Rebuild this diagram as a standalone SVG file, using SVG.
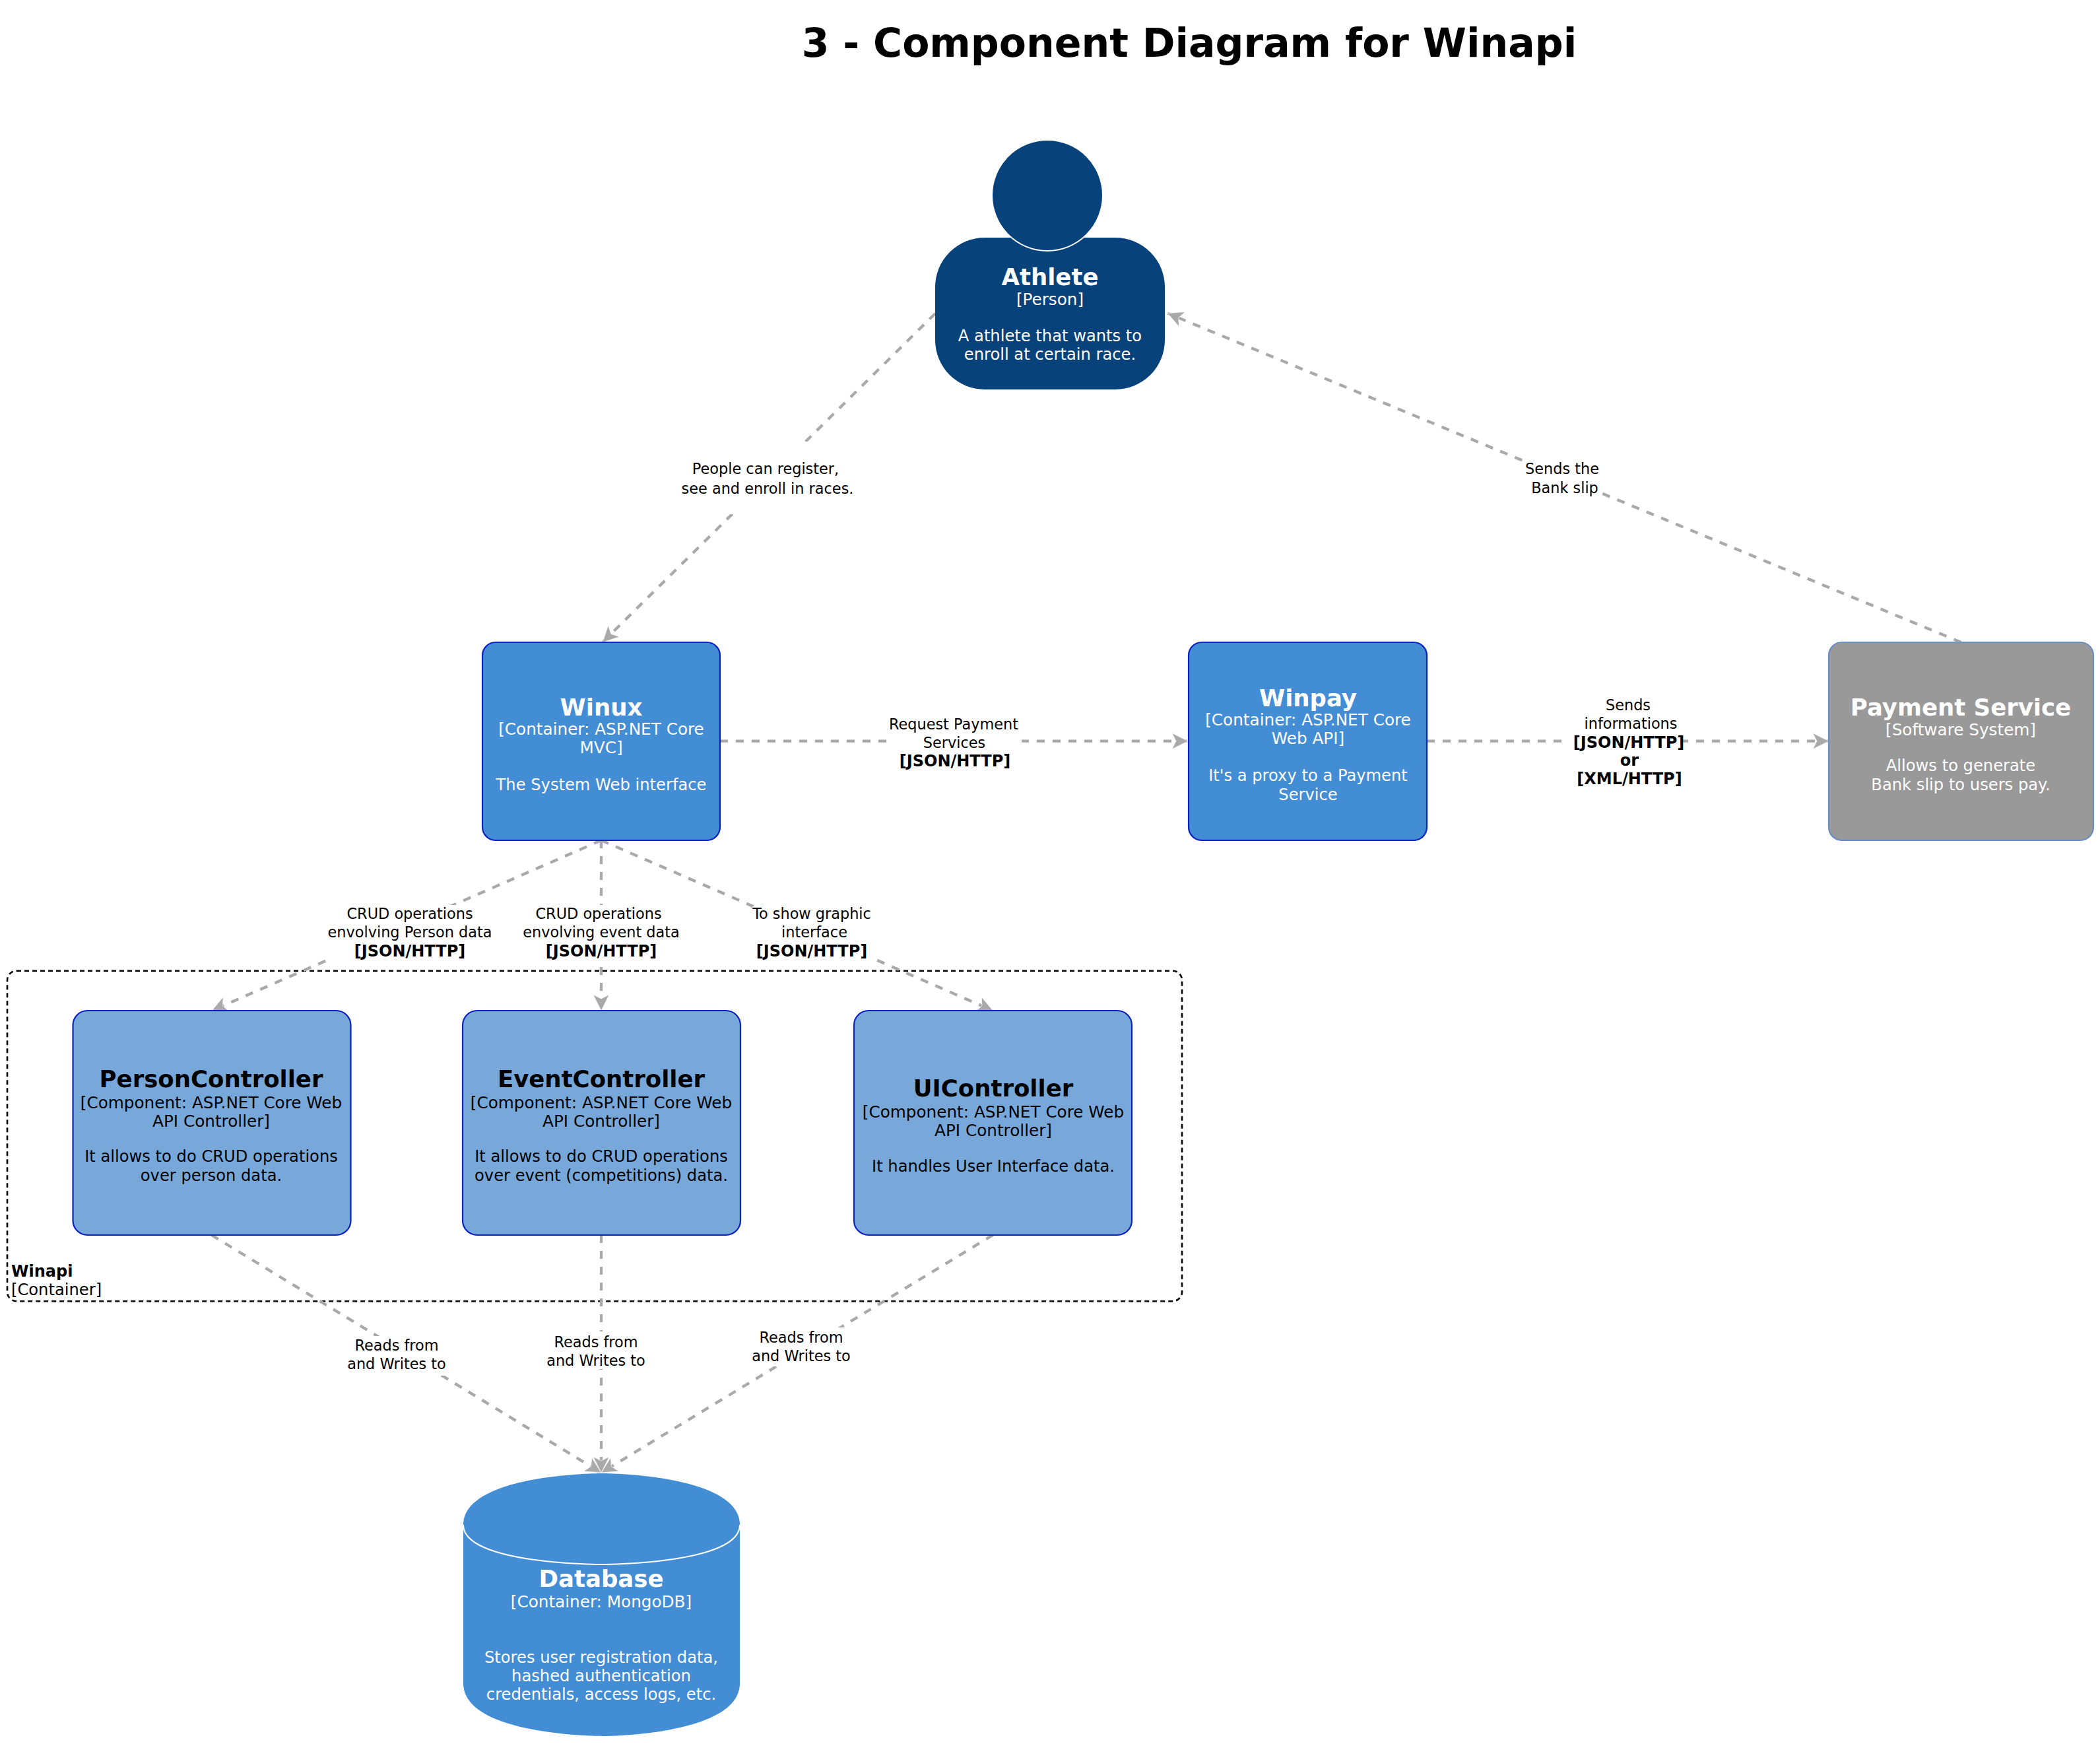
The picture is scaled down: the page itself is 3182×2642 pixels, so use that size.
<svg xmlns="http://www.w3.org/2000/svg" width="3182" height="2642" viewBox="0 0 3182 2642">
<style>
text{font-family:"DejaVu Sans",Verdana,sans-serif;text-anchor:middle}
.n{font-size:35.5px;font-weight:bold}
.s{font-size:24.2px}
.t{font-size:24.7px}
.l{font-size:22.4px;fill:#000}
.b{font-weight:bold;font-size:24px}
.w text{fill:#fff}
.k text{fill:#000}
.c{fill:none;stroke:#a9a9a9;stroke-width:4.3;stroke-dasharray:12 12;marker-end:url(#a)}
.m{fill:#fff;stroke:none}
.box{fill:#438dd5;stroke:#0a22c0;stroke-width:2.2}
.cmp{fill:#78a8da;stroke:#0a22c0;stroke-width:2.2}
</style>
<defs><marker id="a" markerUnits="userSpaceOnUse" markerWidth="26" markerHeight="26" refX="25" refY="13" orient="auto" viewBox="0 0 26 26"><path d="M25,13L1,1L7,13L1,25Z" fill="#a9a9a9" stroke="#fff" stroke-width=".6"/></marker></defs>
<rect width="3182" height="2642" fill="#fff"/>
<text id="title" x="1802" y="86" style="font-size:60px;font-weight:bold">3 - Component Diagram for Winapi</text>
<g id="winapi"><rect x="11" y="1470.7" width="1780" height="500.5" rx="14" fill="none" stroke="#000" stroke-width="2.6" stroke-dasharray="7 5"/>
<text x="17" y="1934" class="s b" style="text-anchor:start">Winapi</text><text x="17" y="1962" class="s" style="text-anchor:start">[Container]</text></g>
<g id="connectors">
<path class="c" d="M1417,475L913,973"/>
<path class="c" d="M2971.5,973L1769,474.5"/>
<path class="c" d="M1091,1122.7L1800,1122.7"/>
<path class="c" d="M2162,1122.7L2771,1122.7"/>
<path class="c" d="M911,1273L321,1531"/>
<path class="c" d="M911,1273L911,1531"/>
<path class="c" d="M911,1273L1504.5,1531"/>
<path class="c" d="M320.5,1871L911,2231"/>
<path class="c" d="M1504.5,1871L911,2231"/>
<path class="c" d="M911,1871L911,2231"/>
</g>
<g id="labels">
<rect class="m" x="1037" y="669" width="257" height="110"/><rect class="m" x="2311" y="686" width="113" height="72"/>
<rect class="m" x="1343" y="1075" width="205" height="95"/><rect class="m" x="2366" y="1050" width="184" height="145"/>
<rect class="m" x="498" y="1371" width="248" height="89"/><rect class="m" x="785" y="1371" width="250" height="94"/><rect class="m" x="1140" y="1373" width="185" height="82"/>
<rect class="m" x="520" y="2024" width="160" height="60"/><rect class="m" x="820" y="2017" width="165" height="57"/><rect class="m" x="1130" y="2011" width="160" height="59"/>
<g class="l">
<text x="1160" y="718">People can register,</text><text x="1163" y="748">see and enroll in races.</text>
<text x="2367" y="718">Sends the</text><text x="2371" y="747">Bank slip</text>
<text x="1445" y="1105">Request Payment</text><text x="1446" y="1133">Services</text><text class="b" x="1447" y="1161">[JSON/HTTP]</text>
<text x="2467" y="1076">Sends</text><text x="2471" y="1104">informations</text><text class="b" x="2468" y="1133">[JSON/HTTP]</text><text class="b" x="2469" y="1160">or</text><text class="b" x="2469" y="1188">[XML/HTTP]</text>
<text x="621" y="1392">CRUD operations</text><text x="621" y="1420">envolving Person data</text><text class="b" x="621" y="1449">[JSON/HTTP]</text>
<text x="907" y="1392">CRUD operations</text><text x="911" y="1420">envolving event data</text><text class="b" x="911" y="1449">[JSON/HTTP]</text>
<text x="1230" y="1392">To show graphic</text><text x="1234" y="1420">interface</text><text class="b" x="1230" y="1449">[JSON/HTTP]</text>
<text x="601" y="2046">Reads from</text><text x="601" y="2074">and Writes to</text>
<text x="903" y="2041">Reads from</text><text x="903" y="2069">and Writes to</text>
<text x="1214" y="2034">Reads from</text><text x="1214" y="2062">and Writes to</text>
</g></g>
<g id="athlete" class="w"><rect x="1417" y="360" width="348" height="230" rx="75" fill="#08427b"/><circle cx="1587" cy="296" r="84" fill="#08427b" stroke="#fff" stroke-width="2"/>
<text class="n" x="1591" y="432">Athlete</text><text class="t" x="1591" y="462">[Person]</text><text class="s" x="1591" y="517">A athlete that wants to</text><text class="s" x="1591" y="545">enroll at certain race.</text></g>
<g id="winux" class="w"><rect class="box" x="731" y="973" width="360" height="300" rx="20"/>
<text class="n" x="911" y="1084">Winux</text><text class="t" x="911" y="1113">[Container: ASP.NET Core</text><text class="t" x="911" y="1141">MVC]</text><text class="s" x="911" y="1197">The System Web interface</text></g>
<g id="winpay" class="w"><rect class="box" x="1801" y="973" width="361" height="300" rx="20"/>
<text class="n" x="1982" y="1070">Winpay</text><text class="t" x="1982" y="1099">[Container: ASP.NET Core</text><text class="t" x="1982" y="1127">Web API]</text><text class="s" x="1982" y="1183">It's a proxy to a Payment</text><text class="s" x="1982" y="1212">Service</text></g>
<g id="payment" class="w"><rect x="2771" y="973" width="401" height="300" rx="20" fill="#999" stroke="#6c8ebf" stroke-width="2.2"/>
<text class="n" x="2971" y="1084">Payment Service</text><text class="t" x="2971" y="1114">[Software System]</text><text class="s" x="2971" y="1168">Allows to generate</text><text class="s" x="2971" y="1197">Bank slip to users pay.</text></g>
<g id="person" class="k"><rect class="cmp" x="110.5" y="1531" width="421" height="340" rx="22"/>
<text class="n" x="320" y="1647">PersonController</text><text class="t" x="320" y="1679">[Component: ASP.NET Core Web</text><text class="t" x="320" y="1707">API Controller]</text><text class="s" x="320" y="1760">It allows to do CRUD operations</text><text class="s" x="320" y="1789">over person data.</text></g>
<g id="event" class="k"><rect class="cmp" x="701" y="1531" width="421" height="340" rx="22"/>
<text class="n" x="911" y="1647">EventController</text><text class="t" x="911" y="1679">[Component: ASP.NET Core Web</text><text class="t" x="911" y="1707">API Controller]</text><text class="s" x="911" y="1760">It allows to do CRUD operations</text><text class="s" x="911" y="1789">over event (competitions) data.</text></g>
<g id="ui" class="k"><rect class="cmp" x="1294" y="1531" width="421" height="340" rx="22"/>
<text class="n" x="1505" y="1661">UIController</text><text class="t" x="1505" y="1693">[Component: ASP.NET Core Web</text><text class="t" x="1505" y="1721">API Controller]</text><text class="s" x="1505" y="1775">It handles User Interface data.</text></g>
<g id="database" class="w"><path d="M702,2310C702,2232 911.5,2232 911.5,2232C911.5,2232 1121,2232 1121,2310L1121,2550C1121,2630 911.5,2630 911.5,2630C911.5,2630 702,2630 702,2550Z" fill="#438dd5"/><path d="M702,2310C702,2370 911.5,2370 911.5,2370C911.5,2370 1121,2370 1121,2310" fill="none" stroke="#fff" stroke-width="2"/>
<text class="n" x="911" y="2404">Database</text><text class="t" x="911" y="2435">[Container: MongoDB]</text><text class="s" x="911" y="2519">Stores user registration data,</text><text class="s" x="911" y="2547">hashed authentication</text><text class="s" x="911" y="2575">credentials, access logs, etc.</text></g>
</svg>
